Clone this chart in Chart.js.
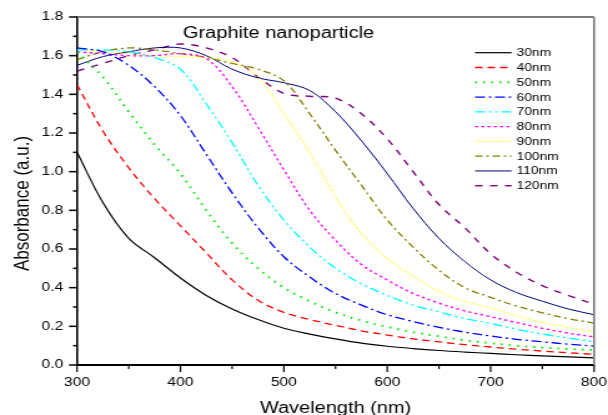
<!DOCTYPE html>
<html>
<head>
<meta charset="utf-8">
<script src="https://cdn.jsdelivr.net/npm/chart.js@4.4.0/dist/chart.umd.min.js"></script>
<style>
  html, body { margin: 0; padding: 0; background: #fff; overflow: hidden; }
  #wrap { width: 608px; height: 415px; }
  /* the source figure is stretched sideways, so the canvas is too */
  #chart { transform: scaleX(1.2485); transform-origin: 0 0; }
</style>
</head>
<body>
<div id="wrap"><canvas id="chart" width="487" height="415"></canvas></div>
<script>
const wavelengths = [300, 325, 350, 375, 400, 425, 450, 475, 500, 525, 550, 575, 600, 625, 650, 675, 700, 725, 750, 775, 800];
const sizes = ['30nm', '40nm', '50nm', '60nm', '70nm', '80nm', '90nm', '100nm', '110nm', '120nm'];

const abs30  = [1.10, 0.84, 0.655, 0.555, 0.45, 0.36, 0.29, 0.235, 0.19, 0.16, 0.135, 0.113, 0.097, 0.085, 0.075, 0.067, 0.06, 0.053, 0.047, 0.042, 0.037];
const abs40  = [1.45, 1.21, 1.02, 0.86, 0.72, 0.58, 0.44, 0.335, 0.272, 0.235, 0.205, 0.177, 0.155, 0.135, 0.12, 0.105, 0.093, 0.082, 0.072, 0.063, 0.055];
const abs50  = [1.62, 1.49, 1.31, 1.14, 0.99, 0.80, 0.63, 0.50, 0.40, 0.33, 0.272, 0.23, 0.197, 0.17, 0.148, 0.128, 0.113, 0.10, 0.09, 0.083, 0.077];
const abs60  = [1.64, 1.62, 1.55, 1.44, 1.29, 1.09, 0.89, 0.71, 0.56, 0.455, 0.37, 0.31, 0.26, 0.225, 0.195, 0.17, 0.15, 0.133, 0.12, 0.108, 0.098];
const abs70  = [1.63, 1.63, 1.62, 1.59, 1.53, 1.35, 1.15, 0.93, 0.75, 0.61, 0.50, 0.42, 0.36, 0.31, 0.275, 0.24, 0.215, 0.185, 0.16, 0.14, 0.12];
const abs80  = [1.62, 1.61, 1.60, 1.60, 1.61, 1.585, 1.44, 1.23, 1.01, 0.80, 0.645, 0.52, 0.44, 0.37, 0.32, 0.28, 0.25, 0.22, 0.19, 0.165, 0.145];
const abs90  = [1.63, 1.62, 1.61, 1.60, 1.595, 1.59, 1.57, 1.49, 1.30, 1.10, 0.87, 0.68, 0.55, 0.46, 0.38, 0.33, 0.295, 0.255, 0.22, 0.195, 0.17];
const abs100 = [1.58, 1.62, 1.64, 1.63, 1.61, 1.59, 1.56, 1.53, 1.47, 1.30, 1.11, 0.93, 0.75, 0.61, 0.49, 0.40, 0.35, 0.305, 0.27, 0.24, 0.217];
const abs110 = [1.55, 1.595, 1.62, 1.64, 1.64, 1.60, 1.53, 1.485, 1.46, 1.42, 1.31, 1.16, 0.99, 0.81, 0.655, 0.535, 0.44, 0.375, 0.33, 0.29, 0.26];
const abs120 = [1.52, 1.56, 1.60, 1.63, 1.66, 1.64, 1.59, 1.49, 1.405, 1.39, 1.38, 1.30, 1.17, 1.00, 0.83, 0.71, 0.575, 0.48, 0.41, 0.36, 0.315];

const series = [abs30, abs40, abs50, abs60, abs70, abs80, abs90, abs100, abs110, abs120];
const yTicks = [0, 0.2, 0.4, 0.6, 0.8, 1.0, 1.2, 1.4, 1.6, 1.8];
const xTicks = [300, 400, 500, 600, 700, 800];

// colour, dash, width for each curve
const styles = [
  ['#000000', [], 1.2],
  ['#ff0000', [6, 4], 1.3],
  ['#00ee00', [1.5, 5], 2],
  ['#0000ff', [8, 3, 2, 3], 1.3],
  ['#00ffff', [8, 3, 2, 3, 2, 3], 1.3],
  ['#ff00ff', [2.5, 2.5], 1.3],
  ['#ffff00', [1, 1.5], 1.3],
  ['#808000', [6, 3, 2, 3], 1.3],
  ['#000080', [], 1.0],
  ['#800080', [6, 6], 1.4]
];

const FONT = '"Liberation Sans", Arial, sans-serif';
Chart.defaults.font.family = FONT;
Chart.defaults.color = '#000';

const datasets = series.map((vals, i) => ({
  label: sizes[i],
  data: wavelengths.map((w, j) => ({ x: w, y: vals[j] })),
  borderColor: styles[i][0],
  borderDash: styles[i][1],
  borderWidth: styles[i][2],
  pointRadius: 0,
  fill: false,
  tension: 0.35
}));

const decor = {
  id: 'decor',
  afterDraw(chart) {
    const ctx = chart.ctx, a = chart.chartArea;
    const xs = chart.scales.x, ys = chart.scales.y;
    ctx.save();
    // grey frame on top and right
    ctx.strokeStyle = '#7a7a7a';
    ctx.lineWidth = 2;
    ctx.beginPath(); ctx.moveTo(a.left, a.top); ctx.lineTo(a.right, a.top); ctx.stroke();
    ctx.lineWidth = 1.6;
    ctx.beginPath(); ctx.moveTo(a.right, a.top); ctx.lineTo(a.right, a.bottom + 1); ctx.stroke();

    // ticks, major and minor
    ctx.strokeStyle = '#000';
    ctx.lineWidth = 1.5;
    for (let v = 0; v <= 18; v++) {
      const y = ys.getPixelForValue(v / 10);
      const len = v % 2 === 0 ? 6.4 : 3.2;
      ctx.beginPath(); ctx.moveTo(a.left, y); ctx.lineTo(a.left - len, y); ctx.stroke();
    }
    ctx.lineWidth = 1.2;
    for (let w = 300; w <= 800; w += 50) {
      const x = xs.getPixelForValue(w);
      const len = w % 100 === 0 ? 7 : 4;
      ctx.beginPath(); ctx.moveTo(x, a.bottom); ctx.lineTo(x, a.bottom + len); ctx.stroke();
    }

    // legend
    const lx0 = 380.5, lx1 = 409.8, tx = 413.8;
    chart.data.datasets.forEach((ds, i) => {
      const y = 52.7 + i * 14.78;
      ctx.strokeStyle = ds.borderColor;
      ctx.lineWidth = ds.borderWidth;
      ctx.setLineDash(ds.borderDash);
      ctx.beginPath(); ctx.moveTo(lx0, y); ctx.lineTo(lx1, y); ctx.stroke();
      ctx.setLineDash([]);
      ctx.fillStyle = '#000';
      ctx.font = '11px ' + FONT;
      ctx.textAlign = 'left';
      ctx.textBaseline = 'middle';
      ctx.fillText(ds.label, tx, y + 0.5);
    });

    // titles
    ctx.fillStyle = '#000';
    ctx.textBaseline = 'alphabetic';
    ctx.font = '16px ' + FONT;
    ctx.textAlign = 'left';
    ctx.fillText('Graphite nanoparticle', 146.6, 38.3);
    ctx.textAlign = 'center';
    ctx.fillText('Wavelength (nm)', (a.left + a.right) / 2, 413);
    ctx.save();
    ctx.translate(22.5, 203.5);
    ctx.rotate(-Math.PI / 2);
    ctx.font = '17px ' + FONT;
    ctx.fillText('Absorbance (a.u.)', 0, 0);
    ctx.restore();
    ctx.restore();
  }
};

new Chart(document.getElementById('chart'), {
  type: 'line',
  data: { datasets },
  options: {
    responsive: false,
    devicePixelRatio: 1,
    animation: false,
    layout: { padding: { top: 17, right: 11.2, left: 0, bottom: 0 } },
    plugins: { legend: { display: false }, tooltip: { enabled: false } },
    scales: {
      x: {
        type: 'linear',
        min: 300,
        max: 800,
        afterFit: s => { s.height = 50; s.paddingLeft = 0; s.paddingRight = 0; },
        afterBuildTicks: s => { s.ticks = xTicks.map(v => ({ value: v })); },
        grid: { display: true, drawOnChartArea: false, drawTicks: false },
        border: { display: true, color: '#000', width: 2 },
        ticks: { padding: 10, font: { size: 12.5 }, maxRotation: 0, callback: v => String(v) }
      },
      y: {
        min: 0,
        max: 1.8,
        afterFit: s => { s.width = 61.7; s.paddingTop = 0; s.paddingBottom = 0; },
        afterBuildTicks: s => { s.ticks = yTicks.map(v => ({ value: v })); },
        grid: { display: true, drawOnChartArea: false, drawTicks: false },
        border: { display: true, color: '#000', width: 1.6 },
        ticks: { padding: 11, font: { size: 12.5 }, callback: v => v.toFixed(1) }
      }
    }
  },
  plugins: [decor]
});
</script>
</body>
</html>
